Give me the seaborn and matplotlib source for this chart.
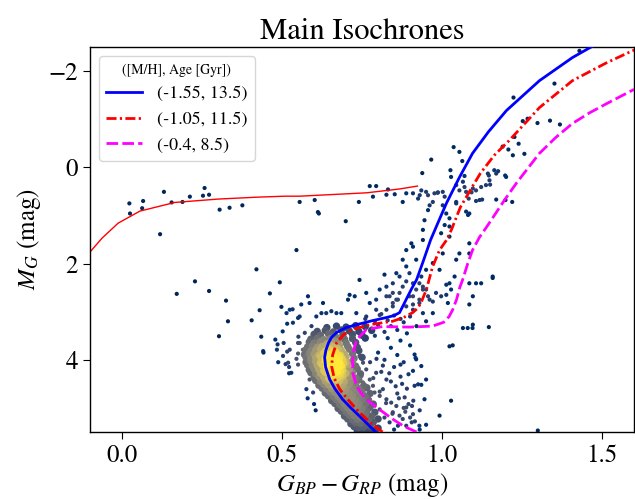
import numpy as np
import matplotlib
matplotlib.use("Agg")
import matplotlib.pyplot as plt
import seaborn as sns

plt.rcParams['font.family'] = ['STIXGeneral', 'DejaVu Sans']
plt.rcParams['mathtext.fontset'] = 'stix'

# ---------------- isochrones ----------------
iso_blue_bprp = [0.792, 0.765, 0.742, 0.715, 0.689, 0.665, 0.649, 0.636, 0.633, 0.637, 0.645,
                 0.655, 0.671, 0.700, 0.733, 0.780, 0.827, 0.850, 0.867, 0.880, 0.892, 0.905,
                 0.920, 0.939, 0.964, 0.995, 1.014, 1.054, 1.095, 1.145, 1.201, 1.304, 1.407,
                 1.460, 1.480]
iso_blue_mg = [5.50, 5.32, 5.17, 5.00, 4.82, 4.60, 4.41, 4.15, 3.95, 3.80, 3.65,
               3.53, 3.43, 3.33, 3.27, 3.19, 3.12, 3.08, 3.02, 2.85, 2.69, 2.52,
               2.34, 1.99, 1.51, 1.03, 0.74, 0.21, -0.29, -0.74, -1.18, -1.80, -2.28,
               -2.48, -2.55]

iso_red_bprp = [0.814, 0.774, 0.733, 0.705, 0.680, 0.663, 0.655, 0.658, 0.671, 0.692, 0.720,
                0.774, 0.845, 0.880, 0.908, 0.925, 0.935, 0.951, 0.970, 0.992, 1.014, 1.029,
                1.045, 1.057, 1.092, 1.120, 1.163, 1.210, 1.304, 1.407, 1.513, 1.594, 1.610]
iso_red_mg = [5.50, 5.30, 5.03, 4.82, 4.61, 4.38, 4.14, 3.90, 3.64, 3.48, 3.37,
              3.27, 3.20, 3.12, 3.02, 2.92, 2.80, 2.54, 2.07, 1.72, 1.51, 1.30,
              1.03, 0.83, 0.43, 0.12, -0.25, -0.56, -1.24, -1.80, -2.17, -2.42, -2.46]

iso_mag_bprp = [0.920, 0.880, 0.845, 0.810, 0.774, 0.750, 0.733, 0.722, 0.720, 0.724, 0.733,
                0.764, 0.814, 0.898, 0.970, 1.005, 1.022, 1.033, 1.045, 1.055, 1.064, 1.080,
                1.095, 1.117, 1.138, 1.157, 1.195, 1.232, 1.304, 1.355, 1.407, 1.460, 1.513,
                1.600]
iso_mag_mg = [5.50, 5.38, 5.23, 5.06, 4.88, 4.72, 4.55, 4.30, 4.05, 3.80, 3.58,
              3.37, 3.31, 3.32, 3.30, 3.22, 3.10, 2.96, 2.75, 2.50, 2.34, 2.00,
              1.72, 1.45, 1.25, 1.06, 0.68, 0.33, -0.29, -0.62, -0.91, -1.13, -1.32,
              -1.62]

hb_line_bprp = [-0.12, -0.100, -0.062, -0.012, 0.056, 0.165, 0.300, 0.424, 0.508, 0.555, 0.764, 0.867, 0.923]
hb_line_mg = [1.85, 1.76, 1.47, 1.16, 0.91, 0.73, 0.66, 0.62, 0.60, 0.60, 0.53, 0.45, 0.39]

iso_labels = ['(-1.55, 13.5)', '(-1.05, 11.5)', '(-0.4, 8.5)']

# ---------------- stars ----------------
left_bprp = [0.023, 0.025, 0.066, 0.063, 0.131, 0.119, 0.155, 0.189, 0.212, 0.253, 0.258, 0.272,
             0.305, 0.336, 0.376, 0.420, 0.493, 0.462, 0.171, 0.228, 0.272, 0.325, 0.331, 0.303,
             0.545, 0.430, 0.405, 0.435, 0.442, 0.498, 0.514, 0.524, 0.533, 0.516, 0.502, 0.479,
             0.486, 0.505, 0.484, 0.516, 0.488, 0.511, 0.522, 0.522, 0.545, 0.550, 0.550, 0.551,
             0.550, 0.441, 0.503, 0.524, 0.519, 0.529, 0.550, 0.565, 0.555, 0.571, 0.592, 0.607,
             0.623, 0.670, 0.534, 0.555, 0.560, 0.586, 0.581, 0.628, 0.638, 0.654, 0.685, 0.706,
             0.711, 0.727, 0.742, 0.763, 0.732, 0.763, 0.576, 0.597, 0.586, 0.580, 0.600, 0.605]
left_mg = [0.75, 0.96, 0.70, 0.85, 0.51, 1.39, 0.73, 0.72, 0.61, 0.59, 0.43, 0.57,
           0.88, 0.84, 0.79, 2.12, 2.39, 2.62, 2.63, 2.37, 2.57, 2.77, 3.20, 3.51,
           1.72, 2.97, 3.18, 3.52, 3.85, 2.90, 3.03, 2.96, 2.95, 3.25, 3.41, 3.58,
           3.68, 3.65, 3.79, 3.83, 4.05, 4.09, 4.15, 4.28, 3.98, 3.13, 3.65, 3.52,
           3.87, 3.82, 3.92, 3.79, 4.06, 4.27, 4.10, 3.79, 3.65, 3.44, 3.30, 3.10,
           3.03, 3.03, 3.23, 3.10, 2.85, 2.82, 2.68, 2.82, 3.03, 2.99, 3.03, 2.75,
           2.65, 2.68, 2.34, 2.61, 3.03, 3.10, 4.61, 4.68, 4.41, 4.80, 4.92, 5.05]

rgb_bprp = [0.794, 0.805, 0.826, 0.846, 0.857, 0.867, 0.846, 0.877, 0.888, 0.909, 0.919, 0.940,
            0.950, 0.961, 0.981, 0.997, 1.013, 1.028, 1.013, 0.774, 0.794, 0.805, 0.826, 0.836,
            0.846, 0.888, 0.909, 0.929, 0.940, 0.971, 0.940, 0.945, 0.919, 0.909, 0.904, 0.888,
            0.877, 0.857, 0.867, 0.820, 0.826, 0.846, 0.862, 0.898, 0.909, 0.898, 0.888, 0.929,
            0.950, 0.935, 0.940, 0.956, 0.971, 0.909, 0.929, 1.008, 0.940, 0.997, 1.023, 1.023,
            1.085, 1.044, 1.039, 1.085, 0.971, 0.992, 1.023, 1.018, 1.158, 1.106, 1.002, 1.054,
            0.966, 0.938, 1.036, 1.054, 1.026, 1.028, 1.070, 1.065, 1.044, 1.002, 0.987, 0.976,
            0.956, 0.935, 0.930, 0.909, 0.925, 0.877, 0.852, 0.826, 1.008, 0.971, 0.961, 0.956,
            1.002, 1.013, 1.044, 1.075, 1.096, 1.117, 1.137, 1.148, 1.143, 1.169, 1.163, 1.200,
            1.198, 1.085, 1.223, 1.351, 1.252, 1.267, 1.298, 1.337, 1.368, 1.226, 1.239, 1.257,
            1.207, 1.221, 1.189, 1.063, 1.146, 1.150, 1.122, 1.106, 1.092, 1.070, 1.054, 1.083,
            1.106, 1.125, 1.169, 1.219, 1.044, 1.075, 1.081, 1.023, 1.429, 1.175, 1.197, 0.740,
            0.774, 0.794, 0.831, 0.784, 0.888, 0.950, 0.986, 0.699, 0.615, 0.602, 0.555, 0.612]
rgb_mg = [2.96, 3.07, 2.96, 2.89, 2.75, 2.61, 2.61, 2.48, 2.37, 2.68, 2.54, 2.48,
          2.54, 2.75, 2.61, 2.68, 2.65, 2.54, 2.44, 2.82, 2.75, 2.54, 2.48, 2.68,
          2.41, 2.89, 2.96, 2.82, 3.03, 3.03, 1.51, 1.10, 1.92, 1.65, 1.58, 1.72,
          1.92, 2.20, 2.27, 2.23, 2.68, 2.82, 2.75, 2.68, 2.41, 2.20, 2.06, 2.41,
          2.13, 2.27, 2.54, 2.68, 2.79, 2.85, 2.75, 1.20, 1.30, 1.37, 1.23, 1.44,
          1.58, 1.92, 2.27, 1.79, 1.99, 2.13, 2.41, 2.82, 2.27, 2.41, 1.79, 1.79,
          -0.16, 0.12, -0.42, -0.32, 0.06, 0.20, 0.18, 0.30, 0.37, 0.51, 0.52, 0.54,
          0.58, 0.48, 0.58, 0.54, 0.65, 0.72, 0.56, 0.57, 0.61, 0.72, 0.79, 0.89,
          0.79, 0.96, 0.72, 0.51, 0.44, 0.68, 0.37, 0.27, 0.13, 0.13, 0.06, 0.20,
          0.68, 0.96, -1.45, -1.74, -0.96, -1.01, -0.92, -0.97, -0.89, -0.63, -0.49, -0.28,
          -0.37, -0.25, -0.43, -0.13, 0.17, 0.36, 0.41, 0.48, 0.52, 0.41, 0.48, 0.65,
          0.70, 0.67, 0.67, 0.72, 0.75, 0.92, 0.99, 1.06, -2.42, 0.08, 0.17, 0.72,
          0.39, 0.39, 0.46, 0.61, 0.54, 0.51, 0.53, 1.12, 0.96, 0.68, 0.72, 0.93]

arm_bprp = [0.742, 0.753, 0.763, 0.748, 0.774, 0.784, 0.794, 0.789, 0.805, 0.815, 0.826, 0.826,
            0.841, 0.857, 0.846, 0.867, 0.877, 0.888, 0.862, 0.836, 0.805, 0.774, 0.763, 0.753,
            0.760, 0.790, 0.810, 0.830, 0.850, 0.870, 0.800, 0.840, 0.880, 0.900, 0.780, 0.820,
            0.860, 0.890, 0.920, 0.950, 0.790, 0.830, 0.870, 0.900, 0.840, 0.800, 0.860, 0.820,
            0.880, 0.850, 0.810, 0.870, 0.840, 0.890, 0.860, 0.910, 0.930, 0.900, 0.950, 0.930,
            0.850, 0.820, 0.800, 0.880, 1.085, 1.122, 1.158, 1.096, 1.085, 1.065, 1.080, 1.095,
            1.096, 1.146, 1.023, 1.033, 0.914, 0.919, 0.914, 0.935, 0.950, 0.945, 0.992, 0.906,
            1.028, 0.925, 0.935, 0.909, 0.917, 0.883, 0.888, 0.909, 0.929, 1.299, 0.870, 0.895,
            0.775, 0.795, 0.815, 0.835, 0.855, 0.875, 0.895, 0.915, 0.785, 0.805, 0.825, 0.845,
            0.865, 0.885, 0.905]
arm_mg = [3.92, 4.06, 4.20, 4.34, 4.41, 4.54, 4.27, 4.68, 4.75, 4.61, 4.41, 4.82,
          4.89, 4.96, 5.09, 5.16, 5.23, 5.37, 5.37, 5.30, 5.03, 4.82, 4.61, 4.47,
          3.15, 3.20, 3.05, 3.18, 3.08, 3.15, 3.28, 3.30, 3.22, 3.10, 3.35, 3.42,
          3.38, 3.45, 3.30, 3.20, 3.50, 3.55, 3.60, 3.70, 3.75, 3.85, 3.90, 4.00,
          4.05, 4.15, 4.25, 4.35, 4.45, 4.60, 4.70, 4.85, 5.05, 5.20, 5.35, 5.45,
          5.45, 5.20, 5.40, 5.00, 2.41, 2.41, 2.30, 2.68, 2.85, 3.34, 3.34, 3.34,
          3.27, 3.32, 3.72, 3.70, 3.89, 3.99, 4.54, 4.52, 4.41, 4.82, 5.16, 4.96,
          4.85, 4.51, 4.13, 4.23, 3.96, 4.78, 4.99, 5.13, 5.37, 5.47, 4.10, 4.30,
          4.05, 3.98, 4.12, 4.28, 4.55, 4.50, 4.92, 5.28, 4.38, 4.66, 4.90, 5.12,
          4.80, 5.08, 5.30]

core_bprp = [0.640, 0.670, 0.700, 0.730, 0.760,
             0.610, 0.635, 0.660, 0.685, 0.710, 0.740, 0.780,
             0.600, 0.620, 0.645, 0.665, 0.690, 0.720, 0.750,
             0.590, 0.610, 0.630, 0.650, 0.670, 0.695, 0.720, 0.760,
             0.585, 0.600, 0.620, 0.640, 0.655, 0.675, 0.700, 0.730, 0.665,
             0.580, 0.595, 0.610, 0.625, 0.640, 0.660, 0.680, 0.705, 0.735, 0.650, 0.670,
             0.575, 0.590, 0.605, 0.620, 0.635, 0.650, 0.665, 0.685, 0.710, 0.740, 0.645, 0.660, 0.675,
             0.570, 0.585, 0.600, 0.615, 0.630, 0.645, 0.660, 0.675, 0.695, 0.720, 0.652, 0.668, 0.683,
             0.575, 0.590, 0.605, 0.620, 0.635, 0.650, 0.665, 0.680, 0.700, 0.725, 0.750, 0.643, 0.658, 0.672, 0.688,
             0.575, 0.590, 0.605, 0.620, 0.635, 0.650, 0.665, 0.680, 0.700, 0.720, 0.643, 0.658, 0.672, 0.690,
             0.580, 0.595, 0.610, 0.625, 0.640, 0.655, 0.670, 0.685, 0.705, 0.730, 0.648, 0.662, 0.678, 0.693,
             0.585, 0.600, 0.615, 0.630, 0.645, 0.660, 0.675, 0.690, 0.710, 0.735, 0.652, 0.668, 0.683,
             0.590, 0.605, 0.620, 0.635, 0.650, 0.665, 0.680, 0.700, 0.720, 0.745, 0.658, 0.673, 0.690,
             0.600, 0.615, 0.630, 0.645, 0.660, 0.675, 0.690, 0.710, 0.730, 0.667, 0.683,
             0.605, 0.620, 0.635, 0.650, 0.665, 0.680, 0.695, 0.715, 0.740, 0.673,
             0.615, 0.630, 0.645, 0.660, 0.675, 0.690, 0.710, 0.730, 0.755,
             0.625, 0.640, 0.655, 0.670, 0.685, 0.700, 0.720, 0.740, 0.765,
             0.635, 0.650, 0.665, 0.680, 0.695, 0.710, 0.730, 0.750, 0.775,
             0.645, 0.660, 0.675, 0.690, 0.705, 0.720, 0.740, 0.760,
             0.655, 0.670, 0.685, 0.700, 0.715, 0.730, 0.750, 0.770,
             0.665, 0.680, 0.695, 0.710, 0.725, 0.740, 0.760, 0.785,
             0.675, 0.690, 0.705, 0.720, 0.735, 0.750, 0.775,
             0.685, 0.700, 0.715, 0.730, 0.745, 0.765, 0.790,
             0.695, 0.710, 0.725, 0.740, 0.760, 0.780,
             0.705, 0.720, 0.735, 0.750, 0.770, 0.800,
             0.715, 0.730, 0.745, 0.765, 0.785,
             0.725, 0.740, 0.755, 0.775, 0.800,
             0.735, 0.750, 0.770, 0.790]
core_mg = [3.33, 3.30, 3.32, 3.29, 3.31,
           3.41, 3.39, 3.42, 3.38, 3.40, 3.41, 3.39,
           3.47, 3.49, 3.46, 3.50, 3.48, 3.47, 3.49,
           3.57, 3.55, 3.58, 3.56, 3.54, 3.57, 3.56, 3.55,
           3.63, 3.65, 3.62, 3.66, 3.64, 3.63, 3.65, 3.64, 3.61,
           3.73, 3.71, 3.74, 3.72, 3.70, 3.73, 3.71, 3.72, 3.74, 3.69, 3.75,
           3.79, 3.81, 3.80, 3.78, 3.82, 3.79, 3.81, 3.80, 3.78, 3.81, 3.77, 3.83, 3.78,
           3.89, 3.87, 3.88, 3.90, 3.86, 3.89, 3.87, 3.90, 3.88, 3.87, 3.92, 3.85, 3.91,
           3.95, 3.97, 3.96, 3.94, 3.98, 3.95, 3.97, 3.96, 3.94, 3.97, 3.95, 3.99, 3.93, 4.00, 3.98,
           4.05, 4.03, 4.04, 4.06, 4.02, 4.05, 4.03, 4.06, 4.04, 4.03, 4.08, 4.01, 4.07, 4.01,
           4.11, 4.13, 4.12, 4.10, 4.14, 4.11, 4.13, 4.12, 4.10, 4.13, 4.16, 4.09, 4.15, 4.08,
           4.21, 4.19, 4.20, 4.22, 4.18, 4.21, 4.19, 4.22, 4.20, 4.19, 4.24, 4.17, 4.23,
           4.27, 4.29, 4.28, 4.26, 4.30, 4.27, 4.29, 4.28, 4.26, 4.29, 4.32, 4.25, 4.31,
           4.37, 4.35, 4.36, 4.38, 4.34, 4.37, 4.35, 4.36, 4.38, 4.40, 4.33,
           4.43, 4.45, 4.44, 4.42, 4.46, 4.43, 4.45, 4.44, 4.42, 4.48,
           4.53, 4.51, 4.52, 4.54, 4.50, 4.53, 4.51, 4.52, 4.54,
           4.59, 4.61, 4.60, 4.58, 4.62, 4.59, 4.61, 4.60, 4.58,
           4.69, 4.67, 4.68, 4.70, 4.66, 4.69, 4.67, 4.68, 4.70,
           4.75, 4.77, 4.76, 4.74, 4.78, 4.75, 4.77, 4.76,
           4.85, 4.83, 4.84, 4.86, 4.82, 4.85, 4.83, 4.84,
           4.91, 4.93, 4.92, 4.90, 4.94, 4.91, 4.93, 4.92,
           5.01, 4.99, 5.00, 5.02, 4.98, 5.01, 4.99,
           5.07, 5.09, 5.08, 5.06, 5.10, 5.07, 5.09,
           5.17, 5.15, 5.16, 5.18, 5.14, 5.17,
           5.23, 5.25, 5.24, 5.22, 5.26, 5.23,
           5.33, 5.31, 5.32, 5.34, 5.30,
           5.39, 5.41, 5.40, 5.38, 5.42,
           5.47, 5.49, 5.48, 5.46]

# ---------------- density colouring ----------------
field_x = np.array(left_bprp + rgb_bprp + arm_bprp)
field_y = np.array(left_mg + rgb_mg + arm_mg)
core_x = np.array(core_bprp)
core_y = np.array(core_mg)
all_x = np.concatenate([field_x, core_x])
all_y = np.concatenate([field_y, core_y])


def density(px, py):
    dx = (px[:, None] - all_x[None, :]) / 0.03
    dy = (py[:, None] - all_y[None, :]) / 0.18
    return np.exp(-0.5 * (dx ** 2 + dy ** 2)).sum(axis=1)


d_field = density(field_x, field_y)
d_core = density(core_x, core_y)
dmax = max(d_field.max(), d_core.max())
h_field = (d_field / dmax) ** 1.2
h_core = (d_core / dmax) ** 1.2
of = np.argsort(h_field)
oc = np.argsort(h_core)

fig = plt.figure(figsize=(6.35, 4.99), dpi=100)
ax = fig.add_axes([0.1417, 0.1343, 0.857, 0.7715])

sns.scatterplot(x=field_x[of], y=field_y[of], hue=h_field[of], palette='cividis',
                hue_norm=(0.0, 0.9), s=9, linewidth=0, legend=False, ax=ax, zorder=1)
sns.scatterplot(x=core_x[oc], y=core_y[oc], hue=h_core[oc], palette='cividis',
                hue_norm=(0.0, 0.9), s=28, linewidth=0, legend=False, ax=ax, zorder=1)

sns.lineplot(x=hb_line_bprp, y=hb_line_mg, sort=False, estimator=None, color='red',
             lw=1.0, legend=False, ax=ax, zorder=2)
sns.lineplot(x=iso_blue_bprp, y=iso_blue_mg, sort=False, estimator=None, color='blue',
             lw=2.0, label=iso_labels[0], ax=ax, zorder=3)
sns.lineplot(x=iso_red_bprp, y=iso_red_mg, sort=False, estimator=None, color='red',
             lw=2.0, linestyle=(0, (3.6, 1.2, 0.8, 1.2)), label=iso_labels[1], ax=ax, zorder=3)
sns.lineplot(x=iso_mag_bprp, y=iso_mag_mg, sort=False, estimator=None, color='magenta',
             lw=2.0, linestyle=(0, (4.2, 1.5)), label=iso_labels[2], ax=ax, zorder=3)

ax.set_xlim(-0.1, 1.6)
ax.set_ylim(5.5, -2.5)
ax.set_xticks([0.0, 0.5, 1.0, 1.5])
ax.set_yticks([-2, 0, 2, 4])
ax.tick_params(labelsize=18, direction='out', length=5)
ax.set_xlabel(r'$G_{BP} - G_{RP}$ (mag)', fontsize=18, labelpad=2)
ax.set_ylabel(r'$M_G$ (mag)', fontsize=18)
ax.set_title('Main Isochrones', fontsize=22)
for s in ax.spines.values():
    s.set_color('black')
    s.set_linewidth(1.0)

ax.legend(loc='upper left', title='([M/H], Age [Gyr])', fontsize=13, title_fontsize=10,
          frameon=True, framealpha=0.8, edgecolor='0.8', fancybox=True)

fig.savefig('out.png', dpi=100)
